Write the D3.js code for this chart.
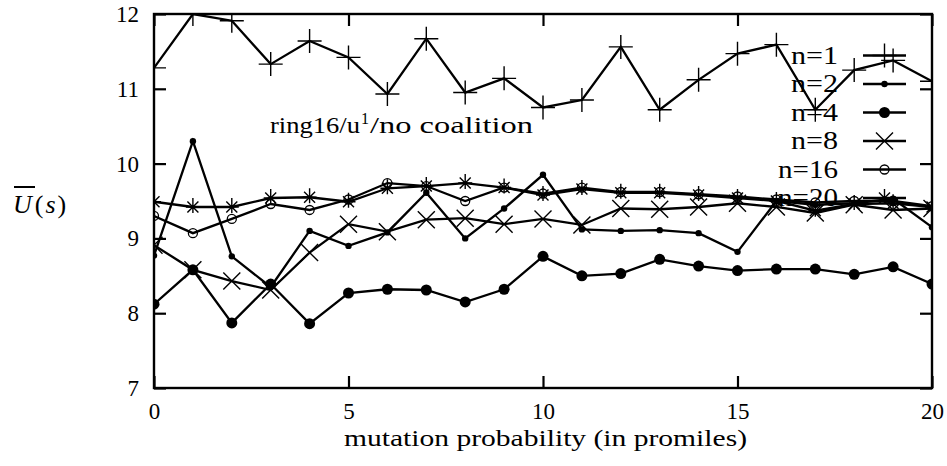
<!DOCTYPE html>
<html>
<head>
<meta charset="utf-8">
<script src="https://cdn.jsdelivr.net/npm/d3@7"></script>
<style>
  html, body { margin: 0; padding: 0; background: #fff; }
</style>
</head>
<body>
<svg id="chart" width="947" height="466" font-family="Liberation Serif"></svg>
<script>
// mutation probability (promiles) on the x axis
const promiles = [0,1,2,3,4,5,6,7,8,9,10,11,12,13,14,15,16,17,18,19,20];

// average utility per coalition size n
const n1  = [11.28,12.00,11.91,11.33,11.64,11.42,10.93,11.67,10.95,11.14,10.75,10.85,11.56,10.72,11.12,11.47,11.59,10.72,11.25,11.38,11.10];
const n2  = [8.77,10.30,8.76,8.35,9.10,8.90,9.08,9.61,9.00,9.40,9.85,9.12,9.10,9.11,9.07,8.82,9.50,9.45,9.47,9.53,9.15];
const n4  = [8.12,8.58,7.87,8.39,7.86,8.27,8.32,8.31,8.15,8.32,8.76,8.50,8.53,8.72,8.63,8.57,8.59,8.59,8.52,8.62,8.39];
const n8  = [8.91,8.58,8.43,8.31,8.81,9.19,9.09,9.25,9.27,9.19,9.26,9.18,9.40,9.39,9.42,9.47,9.42,9.34,9.45,9.38,9.40];
const n16 = [9.30,9.07,9.26,9.46,9.38,9.52,9.74,9.70,9.50,9.68,9.60,9.68,9.62,9.62,9.59,9.56,9.52,9.48,9.50,9.50,9.43];
const n20 = [9.49,9.42,9.42,9.54,9.55,9.49,9.67,9.70,9.74,9.68,9.58,9.66,9.61,9.61,9.58,9.54,9.50,9.37,9.46,9.47,9.42];

const seriesNames = ["n=1","n=2","n=4","n=8","n=16","n=20"];
const seriesValues = [n1, n2, n4, n8, n16, n20];
const seriesMarkers = ["plus","dotSmall","dotLarge","cross","circle","star"];

const xTicks = [0,5,10,15,20];
const yTicks = [7,8,9,10,11,12];

const FONT = "Liberation Serif";
const svg = d3.select("#chart");
const plotLeft = 154, plotRight = 932, plotTop = 14, plotBottom = 388;

const x = d3.scaleLinear().domain([0,20]).range([plotLeft,plotRight]);
const y = d3.scaleLinear().domain([7,12]).range([plotBottom,plotTop]);

svg.append("defs").append("clipPath").attr("id","plotClip")
  .append("rect").attr("x",plotLeft).attr("y",plotTop-1).attr("width",plotRight-plotLeft).attr("height",plotBottom-plotTop+2);

// axes: ticks point inward on all four sides
const tickLen = 12;
const axisG = svg.append("g");
const bottomAxis = d3.axisBottom(x).tickValues(xTicks).tickSize(-tickLen).tickPadding(14).tickFormat(d3.format("d"));
const topAxis = d3.axisTop(x).tickValues(xTicks).tickSize(-tickLen).tickFormat("");
const leftAxis = d3.axisLeft(y).tickValues(yTicks).tickSize(-tickLen).tickPadding(15).tickFormat(d3.format("d"));
const rightAxis = d3.axisRight(y).tickValues(yTicks).tickSize(-tickLen).tickFormat("");

function styleAxis(g) {
  g.attr("font-family", FONT).attr("font-size", 23);
  g.select(".domain").remove();
  g.selectAll(".tick line").attr("stroke","#000").attr("stroke-width",2.2);
  g.selectAll(".tick text").attr("font-size",23).attr("font-family",FONT).attr("fill","#000");
}
axisG.append("g").attr("transform",`translate(0,${plotBottom})`).call(bottomAxis).call(styleAxis)
  .selectAll(".tick text").attr("dy","0.74em");
axisG.append("g").attr("transform",`translate(0,${plotTop})`).call(topAxis).call(styleAxis);
axisG.append("g").attr("transform",`translate(${plotLeft},0)`).call(leftAxis).call(styleAxis)
  .selectAll(".tick text").attr("dy","0.33em");
axisG.append("g").attr("transform",`translate(${plotRight},0)`).call(rightAxis).call(styleAxis);

// frame
svg.append("rect").attr("x",plotLeft).attr("y",plotTop).attr("width",plotRight-plotLeft).attr("height",plotBottom-plotTop)
  .attr("fill","none").attr("stroke","#000").attr("stroke-width",2.4);

// x axis title
svg.append("text").attr("x",344).attr("y",446).attr("font-family",FONT)
  .attr("font-size",23).attr("textLength",403).attr("lengthAdjust","spacingAndGlyphs")
  .text("mutation probability (in promiles)");

// y axis title: U-bar(s)
const ylab = svg.append("text").attr("x",13).attr("y",213).attr("font-family",FONT).attr("font-size",26);
ylab.append("tspan").attr("font-style","italic").text("U");
ylab.append("tspan").attr("dx",3).text("(");
ylab.append("tspan").attr("dx",2).attr("font-style","italic").text("s");
ylab.append("tspan").attr("dx",2).text(")");
svg.append("line").attr("x1",14).attr("x2",35).attr("y1",187).attr("y2",187)
  .attr("stroke","#000").attr("stroke-width",2);

// in-plot title, with superscript
svg.append("text").attr("x",270).attr("y",133).attr("font-family",FONT).attr("font-size",24)
  .attr("textLength",90).attr("lengthAdjust","spacingAndGlyphs").text("ring16/u");
svg.append("text").attr("x",361).attr("y",124).attr("font-family",FONT).attr("font-size",16)
  .text("1");
svg.append("text").attr("x",370).attr("y",133).attr("font-family",FONT).attr("font-size",24)
  .attr("textLength",163).attr("lengthAdjust","spacingAndGlyphs").text("/no coalition");

// marker drawing
function drawMarker(g, type, cx, cy) {
  const s = "#000";
  if (type === "plus") {
    const h = 12;
    g.append("path").attr("d",`M${cx-h},${cy}H${cx+h}M${cx},${cy-h}V${cy+h}`)
      .attr("stroke",s).attr("stroke-width",1.4).attr("fill","none");
  } else if (type === "dotSmall") {
    g.append("circle").attr("cx",cx).attr("cy",cy).attr("r",3.2).attr("fill",s);
  } else if (type === "dotLarge") {
    g.append("circle").attr("cx",cx).attr("cy",cy).attr("r",5.5).attr("fill",s);
  } else if (type === "cross") {
    const h = 8.5;
    g.append("path").attr("d",`M${cx-h},${cy-h}L${cx+h},${cy+h}M${cx-h},${cy+h}L${cx+h},${cy-h}`)
      .attr("stroke",s).attr("stroke-width",1.4).attr("fill","none");
  } else if (type === "circle") {
    g.append("circle").attr("cx",cx).attr("cy",cy).attr("r",4.5)
      .attr("fill","none").attr("stroke",s).attr("stroke-width",1.3);
  } else if (type === "star") {
    const h = 7, d = 5.5;
    g.append("path").attr("d",`M${cx-h},${cy}H${cx+h}M${cx},${cy-h-2}V${cy+h-1}M${cx-d},${cy+d}L${cx+d},${cy-d}M${cx-d},${cy-d}L${cx+d},${cy+d}`)
      .attr("stroke",s).attr("stroke-width",1.4).attr("fill","none");
  }
}

const line = d3.line().x((d,i) => x(promiles[i])).y(d => y(d));
const legendTextX = 838, legendX1 = 863, legendX2 = 906;
const legendY0 = 55.5, legendStep = 28.5;

seriesValues.forEach((vals, k) => {
  const g = svg.append("g");
  const pg = g.append("g").attr("clip-path","url(#plotClip)");
  pg.append("path").datum(vals).attr("d",line)
    .attr("fill","none").attr("stroke","#000").attr("stroke-width",2.3).attr("stroke-linejoin","miter");
  vals.forEach((v,i) => drawMarker(pg, seriesMarkers[k], x(promiles[i]), y(v)));

  // legend row
  const ly = legendY0 + k*legendStep;
  const label = seriesNames[k];
  g.append("text").attr("x",legendTextX).attr("y",ly).attr("dy","0.33em")
    .attr("text-anchor","end").attr("font-family",FONT).attr("font-size",25)
    .attr("textLength", label.length > 3 ? 60 : 47).attr("lengthAdjust","spacingAndGlyphs")
    .text(label);
  g.append("line").attr("x1",legendX1).attr("x2",legendX2).attr("y1",ly).attr("y2",ly)
    .attr("stroke","#000").attr("stroke-width",2.3);
  drawMarker(g, seriesMarkers[k], (legendX1+legendX2)/2, ly);
});
</script>
</body>
</html>
